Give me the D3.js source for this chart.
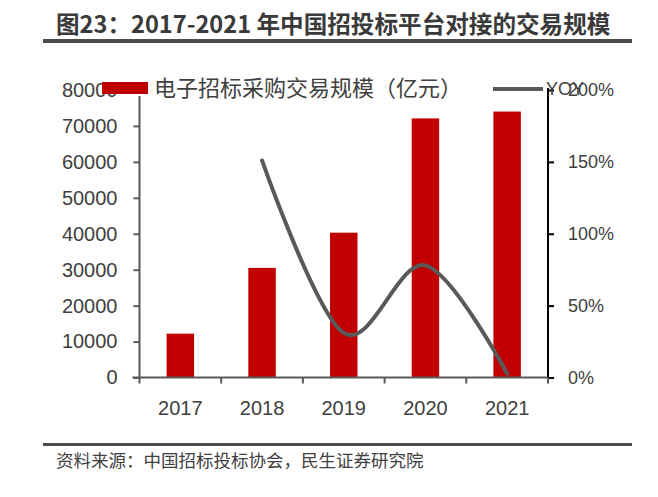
<!DOCTYPE html>
<html><head><meta charset="utf-8">
<script src="https://cdn.jsdelivr.net/npm/d3@7"></script>
<style>body{margin:0;background:#fff}svg{display:block}</style>
</head><body><svg id="c" width="658" height="497"></svg>
<script>
const years = ["2017", "2018", "2019", "2020", "2021"];
const volume = [12200, 30500, 40300, 72100, 74000];
const yoy = [null, 1.51, 0.31, 0.78, 0.026];
const leftTicks = [0, 10000, 20000, 30000, 40000, 50000, 60000, 70000, 80000];
const rightTicks = [0, 0.5, 1, 1.5, 2];
const titleText = "图23：2017-2021 年中国招投标平台对接的交易规模";
const sourceText = "资料来源：中国招标投标协会，民生证券研究院";
const legendBarText = "电子招标采购交易规模（亿元）";
const legendLineText = "YOY";

const svg = d3.select("#c");
const cjk = "'Noto Sans CJK SC','Noto Sans',sans-serif";
const num = "'Liberation Sans',Arial,sans-serif";
const textCol = "#404040";

// plot geometry
const L = 139.5, R = 548, T = 90, B = 377.5;
const x = d3.scaleBand().domain(years).range([L, R]).paddingInner(0.664).paddingOuter(0.332);
const yL = d3.scaleLinear().domain([0, 80000]).range([B, T]);
const yR = d3.scaleLinear().domain([0, 2]).range([B, T]);

// title
svg.append("text").attr("x", 56).attr("y", 33).attr("font-family", cjk).attr("font-weight", "bold")
  .attr("font-size", 23.6).attr("fill", "#3a3a3a").text(titleText);
svg.append("rect").attr("x", 43).attr("y", 39).attr("width", 589).attr("height", 4).attr("fill", "#4d4d4d");

// bars
svg.append("g").selectAll("rect").data(years).join("rect")
  .attr("x", d => x(d)).attr("width", x.bandwidth())
  .attr("y", (d, i) => yL(volume[i])).attr("height", (d, i) => B - yL(volume[i]))
  .attr("fill", "#C00000");

// left axis
const gL = svg.append("g").attr("transform", `translate(${L},0)`)
  .call(d3.axisLeft(yL).tickValues(leftTicks).tickSize(6).tickPadding(16).tickFormat(d3.format("d")));
gL.select(".domain").remove();
gL.selectAll(".tick line").attr("stroke", "#595959").attr("stroke-width", 2);
gL.selectAll(".tick text").attr("font-family", num).attr("font-size", 20).attr("fill", textCol);
svg.append("line").attr("x1", L).attr("x2", L).attr("y1", 96).attr("y2", B + 1)
  .attr("stroke", "#595959").attr("stroke-width", 2);

// right axis
const gR = svg.append("g").attr("transform", `translate(${R},0)`)
  .call(d3.axisRight(yR).tickValues(rightTicks).tickSize(6).tickPadding(14).tickFormat(d3.format(".0%")));
gR.select(".domain").remove();
gR.selectAll(".tick line").attr("stroke", "#000").attr("stroke-width", 2);
gR.selectAll(".tick text").attr("font-family", num).attr("font-size", 18).attr("fill", textCol);
svg.append("line").attr("x1", R).attr("x2", R).attr("y1", 88).attr("y2", B)
  .attr("stroke", "#000").attr("stroke-width", 2);

// x axis
svg.append("line").attr("x1", L - 7).attr("x2", R).attr("y1", B).attr("y2", B)
  .attr("stroke", "#595959").attr("stroke-width", 2);
const bounds = d3.range(years.length + 1).map(i => L + i * x.step());
svg.append("g").selectAll("line").data(bounds).join("line")
  .attr("x1", d => d).attr("x2", d => d).attr("y1", B).attr("y2", B + 6)
  .attr("stroke", "#595959").attr("stroke-width", 2);
svg.append("g").selectAll("text").data(years).join("text")
  .attr("x", d => x(d) + x.bandwidth() / 2).attr("y", 415).attr("text-anchor", "middle")
  .attr("font-family", num).attr("font-size", 20).attr("fill", textCol).text(d => d);

// YOY line
const line = d3.line()
  .defined(d => d[1] != null)
  .x(d => x(d[0]) + x.bandwidth() / 2).y(d => yR(d[1]))
  .curve(d3.curveCatmullRom.alpha(0));
svg.append("path").datum(years.map((y, i) => [y, yoy[i]]))
  .attr("d", line).attr("fill", "none").attr("stroke", "#595959").attr("stroke-width", 4)
  .attr("stroke-linecap", "round");

// legend
svg.append("rect").attr("x", 102).attr("y", 82).attr("width", 46).attr("height", 12).attr("fill", "#C00000");
svg.append("text").attr("x", 154).attr("y", 96).attr("font-family", cjk).attr("font-size", 22)
  .attr("fill", textCol).text(legendBarText);
svg.append("line").attr("x1", 493).attr("x2", 543).attr("y1", 89).attr("y2", 89)
  .attr("stroke", "#595959").attr("stroke-width", 4);
svg.append("text").attr("x", 546).attr("y", 95).attr("font-family", num).attr("font-size", 18)
  .attr("fill", textCol).text(legendLineText);

// source
svg.append("rect").attr("x", 43).attr("y", 443).attr("width", 589).attr("height", 3).attr("fill", "#4d4d4d");
svg.append("text").attr("x", 56).attr("y", 467).attr("font-family", cjk).attr("font-size", 17.5)
  .attr("fill", textCol).text(sourceText);
</script></body></html>
